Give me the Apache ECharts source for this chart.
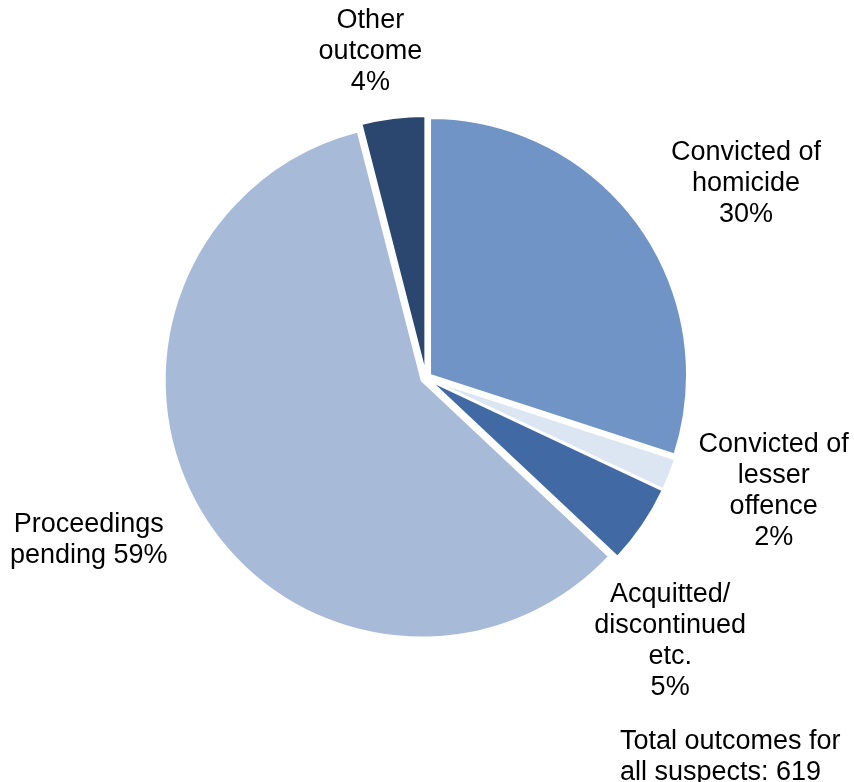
<!DOCTYPE html>
<html>
<head>
<meta charset="utf-8">
<script src="https://cdn.jsdelivr.net/npm/echarts@6/dist/echarts.min.js"></script>
<style>
html,body{margin:0;padding:0;background:#fff;}
#chart{width:854px;height:782px;}
</style>
</head>
<body>
<div id="chart"></div>
<script>
// Data
var categories = ['Convicted of homicide', 'Convicted of lesser offence', 'Acquitted/discontinued etc.', 'Proceedings pending', 'Other outcome'];
var labelTexts = ['Convicted of\nhomicide', 'Convicted of\nlesser\noffence', 'Acquitted/\ndiscontinued\netc.', 'Proceedings\npending', 'Other\noutcome'];
var percentValues = [30, 2, 5, 59, 4];
var sliceColors = ['#7094C6', '#DCE6F2', '#416AA4', '#A7BBD9', '#2C476F'];
var totalNote = 'Total outcomes for\nall suspects: 619';

// label block centres (layout, not data)
var labelCentres = [[742, 186], [769, 489], [666, 638], [93, 538], [371, 57]];
var sepAfterName = [true, true, true, false, true];

var chart = echarts.init(document.getElementById('chart'), null, {renderer: 'canvas'});
var data = categories.map(function (c, i) {
  return {
    name: c,
    value: percentValues[i],
    selected: true,
    itemStyle: {color: sliceColors[i]}
  };
});

chart.setOption({
  animation: false,
  backgroundColor: '#ffffff',
  textStyle: {fontFamily: 'Liberation Sans, Arial, sans-serif'},
  graphic: [{
    type: 'text',
    left: 620,
    top: 726,
    style: {
      text: totalNote,
      fill: '#000',
      font: '27px "Liberation Sans", Arial, sans-serif',
      lineHeight: 31,
      align: 'left'
    }
  }],
  series: [{
    type: 'pie',
    center: [426, 378],
    radius: [0, 257],
    startAngle: 90,
    clockwise: true,
    selectedMode: 'multiple',
    selectedOffset: 5,
    avoidLabelOverlap: false,
    data: data,
    itemStyle: {borderColor: '#ffffff', borderWidth: 2},
    select: {itemStyle: {borderColor: '#ffffff', borderWidth: 2}},
    emphasis: {disabled: true},
    labelLine: {show: false},
    label: {
      show: true,
      position: 'outside',
      color: '#000',
      fontSize: 27,
      lineHeight: 31,
      fontFamily: 'Liberation Sans, Arial, sans-serif',
      formatter: function (p) {
        var idx = p.dataIndex;
        var pct = Math.round(p.percent) + '%';
        var txt = labelTexts[idx] + (sepAfterName[idx] ? '\n' : ' ') + pct;
        return txt.split('\n').map(function (l) { return '{c|' + l + '}'; }).join('\n');
      },
      rich: {
        c: {
          align: 'center',
          color: '#000',
          fontSize: 27,
          lineHeight: 31,
          fontFamily: 'Liberation Sans, Arial, sans-serif'
        }
      }
    },
    labelLayout: function (params) {
      var c = labelCentres[params.dataIndex];
      var r = params.labelRect;
      return {
        dx: c[0] - (r.x + r.width / 2),
        dy: c[1] - (r.y + r.height / 2),
        hideOverlap: false
      };
    }
  }]
});
</script>
</body>
</html>
